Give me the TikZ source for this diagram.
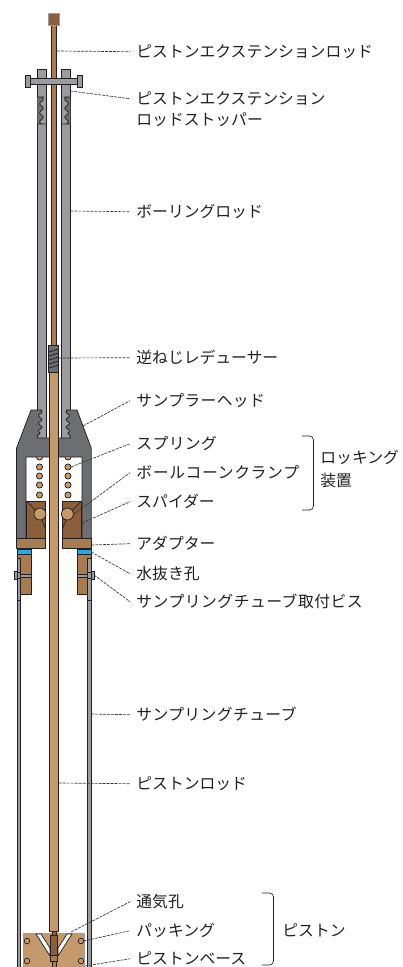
\documentclass[tikz,border=0pt]{standalone}
\usepackage{fontspec}
\setmainfont{Noto Sans CJK JP}
\newcommand{\wider}[1]{\addfontfeature{LetterSpace=#1}}
\definecolor{rodgray}{HTML}{9A9C9F}
\definecolor{headgray}{HTML}{6D6E71}
\definecolor{tan}{HTML}{C49A6C}
\definecolor{midbrown}{HTML}{A97C50}
\definecolor{darkbrown}{HTML}{8B5E3C}
\definecolor{linecol}{HTML}{231F20}
\definecolor{blueband}{HTML}{27AAE1}
\tikzset{
  part/.style={draw=linecol,line width=0.55pt,line join=round},
  thin part/.style={draw=linecol,line width=0.4pt,line join=round},
  lead/.style={draw=linecol!90,line width=0.5pt,dash pattern=on 2.2pt off 0.8pt},
  lab/.style={anchor=west,inner xsep=4.6pt,inner ysep=0pt,font=\fontsize{11.85pt}{15pt}\selectfont,text=linecol},
  brace/.style={draw=linecol,line width=0.5pt,rounded corners=3pt}
}
\begin{document}
\begin{tikzpicture}[x=0.75pt,y=-0.75pt]
\useasboundingbox (0,0) rectangle (403,967);
\clip (0,0) rectangle (403,967);
% sampling tube
\draw[thin part,fill=rodgray] (16.8,558) rectangle (20.6,975);
\draw[thin part,fill=rodgray] (87.3,558) rectangle (91.2,975);
% boring rods
\draw[part,fill=rodgray] (37.4,69.5) rectangle (46.6,438);
\draw[part,fill=rodgray] (61,69.5) rectangle (70.3,438);
% extension rod and piston rod
\draw[part,fill=midbrown] (51.5,25) rectangle (56.8,346);
\draw[part,fill=tan] (49.4,372) rectangle (58.6,931);
% reducer
\draw[part,fill=headgray] (48.8,345.5) rectangle (58.8,372);
\foreach \y in {350,354,358,362,366}
  \draw[linecol,line width=0.6pt] (48.8,\y+2) -- (58.8,\y-1);
% cap
\draw[part,fill=darkbrown,draw=rodgray] (48.5,13) rectangle (59,25);
% stopper bar
\draw[part,fill=rodgray] (30,78.5) rectangle (78,84.2);
\draw[part,fill=rodgray] (25.4,75.5) rectangle (30.4,87.5);
\draw[part,fill=rodgray] (77.6,75.5) rectangle (82.7,87.5);
% stopper threads
\fill[headgray] (37.4,97) -- (44.4,97) -- plot[smooth,domain=0:1,samples=25] ({41.5+1.8*sin(1080*\x)},{97+27*\x}) -- (37.4,124) -- cycle;
\draw[linecol,line width=0.5pt] (37.4,97) -- (44.4,97) plot[smooth,domain=0:1,samples=25] ({41.5+1.8*sin(1080*\x)},{97+27*\x}) (37.4,124) -- (46.6,124);
\fill[headgray] (70.3,97) -- (63.5,97) -- plot[smooth,domain=0:1,samples=25] ({66.5-1.8*sin(1080*\x)},{97+27*\x}) -- (70.3,124) -- cycle;
\draw[linecol,line width=0.5pt] (70.3,97) -- (63.5,97) plot[smooth,domain=0:1,samples=25] ({66.5-1.8*sin(1080*\x)},{97+27*\x}) (61,124) -- (70.3,124);
% sampler head
\draw[part,fill=headgray] (31,410) -- (41.7,410)
  -- plot[smooth,domain=0:1,samples=25] ({40.2+1.8*sin(1080*\x)},{410+23*\x})
  -- (37.4,436) -- (37.4,438) -- (49.4,438) -- (49.4,457) -- (26,457) -- (26,540) -- (16.6,540) -- (16.6,448) -- cycle;
\draw[part,fill=headgray] (77,410) -- (66.5,410)
  -- plot[smooth,domain=0:1,samples=25] ({67.8-1.8*sin(1080*\x)},{410+23*\x})
  -- (70.3,436) -- (70.3,438) -- (58.6,438) -- (58.6,457) -- (82,457) -- (82,540) -- (91.2,540) -- (91.2,448) -- cycle;
% springs
\foreach \y in {467,476,485,495}{
  \draw[part,fill=tan] (39.5,\y) circle (3.1);
  \draw[part,fill=tan] (68,\y) circle (3.1);
}
\begin{scope}
  \clip (26,457.3) rectangle (82,470);
  \draw[part,fill=tan] (39.5,457) circle (3.1);
  \draw[part,fill=tan] (68,457) circle (3.1);
\end{scope}
% spider
\draw[part,fill=darkbrown] (26.6,501) rectangle (45.7,538);
\draw[part,fill=darkbrown] (62.3,501) rectangle (81.4,538);
\draw[linecol,line width=0.5pt] (26.6,501) -- (36,511) (41,518) -- (45.7,529);
\draw[linecol,line width=0.5pt] (81.4,501) -- (72,511) (67,518) -- (62.3,529);
\draw[part,fill=tan] (40,514) circle (6);
\draw[part,fill=tan] (67.4,514) circle (6);
% tube holders
\draw[part,fill=midbrown] (17,554) rectangle (31,594);
\draw[part,fill=midbrown] (77,554) rectangle (91,594);
\draw[thin part,fill=rodgray] (16.8,558) rectangle (20.6,600);
\draw[thin part,fill=rodgray] (87.3,558) rectangle (91.2,600);
% screws
\draw[thin part,fill=rodgray] (20.6,574) rectangle (31,576.8);
\draw[thin part,fill=rodgray] (77,574) rectangle (87.3,576.8);
\draw[thin part,fill=rodgray] (14,571) rectangle (17,579.5);
\draw[thin part,fill=rodgray] (91,571) rectangle (94,579.5);
\draw[thin part,fill=rodgray] (17,572) rectangle (20.6,578.5);
\draw[thin part,fill=rodgray] (87.3,572) rectangle (91.2,578.5);
% adapter and blue band
\draw[part,fill=blueband] (17,549) rectangle (31,554.5);
\draw[part,fill=blueband] (77,549) rectangle (91,554.5);
\draw[part,fill=midbrown] (16.6,538.5) rectangle (45.7,548.5);
\draw[part,fill=midbrown] (62.3,538.5) rectangle (91.2,548.5);
% piston base
\draw[part,draw=rodgray,fill=tan] (23.4,933.5) rectangle (84,970);
\foreach \p in {(27,941),(27,961),(81,941),(81,961)}
  \draw[part,fill=tan] \p circle (2.8);
\draw[part,fill=white] (36,934) -- (41,934) -- (50,948) -- (50,956) -- cycle;
\draw[part,fill=white] (72,934) -- (67,934) -- (58,948) -- (58,956) -- cycle;
\draw[part,fill=darkbrown] (52,931) rectangle (56,935);
\draw[part,fill=darkbrown] (50,935) rectangle (57.7,955);
\draw[part,fill=midbrown] (50,955) rectangle (57.7,961);
\draw[part,fill=midbrown] (52,961) rectangle (56,970);
% labels
\node[lab] (l1) at (130,51.7) {ピストンエクステンションロッド};
\node[lab] (l2) at (130,98.7) {ピストンエクステンション};
\node[lab,anchor=north west] (l2b) at (130,112.7) {ロッドストッパー};
\node[lab] (l3) at (130,211.7) {ボーリングロッド};
\node[lab] (l4) at (130,357.7) {逆ねじレデューサー};
\node[lab] (l5) at (130,400.7) {\wider{2.4}サンプラーヘッド};
\node[lab] (l6) at (130,443.7) {\wider{2.5}スプリング};
\node[lab] (l7) at (130,472.7) {\wider{4.4}ボールコーンクランプ};
\node[lab] (l8) at (130,501.7) {スパイダー};
\node[lab] (l9) at (130,543.7) {アダプター};
\node[lab] (l10) at (130,573.7) {水抜き孔};
\node[lab] (l11) at (130,601.7) {\wider{3.2}サンプリングチューブ取付ビス};
\node[lab] (l12) at (130,714.7) {\wider{2.5}サンプリングチューブ};
\node[lab] (l13) at (130,783.7) {ピストンロッド};
\node[lab] (l14) at (130,901.7) {通気孔};
\node[lab] (l15) at (130,930.7) {パッキング};
\node[lab] (l16) at (130,958.7) {ピストンベース};
\node[lab] (g1) at (314,457.7) {ロッキング};
\node[lab] (g1b) at (314,480.7) {装置};
\node[lab] (g2) at (276,930.7) {ピストン};
% leader free ends
\coordinate (a1) at (57,51);
\coordinate (a2) at (70.3,91);
\coordinate (a3) at (70.3,211);
\coordinate (a4) at (58.8,358);
\coordinate (a5) at (83,426);
\coordinate (a6) at (71,467);
\coordinate (a7) at (74,514);
\coordinate (a8) at (82,523);
\coordinate (a9) at (91.2,545);
\coordinate (a10) at (91.2,552);
\coordinate (a11) at (94,575);
\coordinate (a12) at (91.2,714);
\coordinate (a13) at (58.6,783);
\coordinate (a14) at (71,932);
\coordinate (a15) at (83.5,941);
\coordinate (a16) at (85,966);
\foreach \a/\b in {a1/l1,a2/l2,a3/l3,a4/l4,a5/l5,a6/l6,a7/l7,a8/l8,a9/l9,a10/l10,a11/l11,a12/l12,a13/l13,a14/l14,a15/l15,a16/l16}
  \draw[lead] (\a) -- (\b.west);
% braces
\draw[brace] (302,436) -- (313.5,436) -- (313.5,510) -- (302,510);
\draw[brace] (262,893) -- (273.5,893) -- (273.5,965) -- (262,965);
\end{tikzpicture}
\end{document}
